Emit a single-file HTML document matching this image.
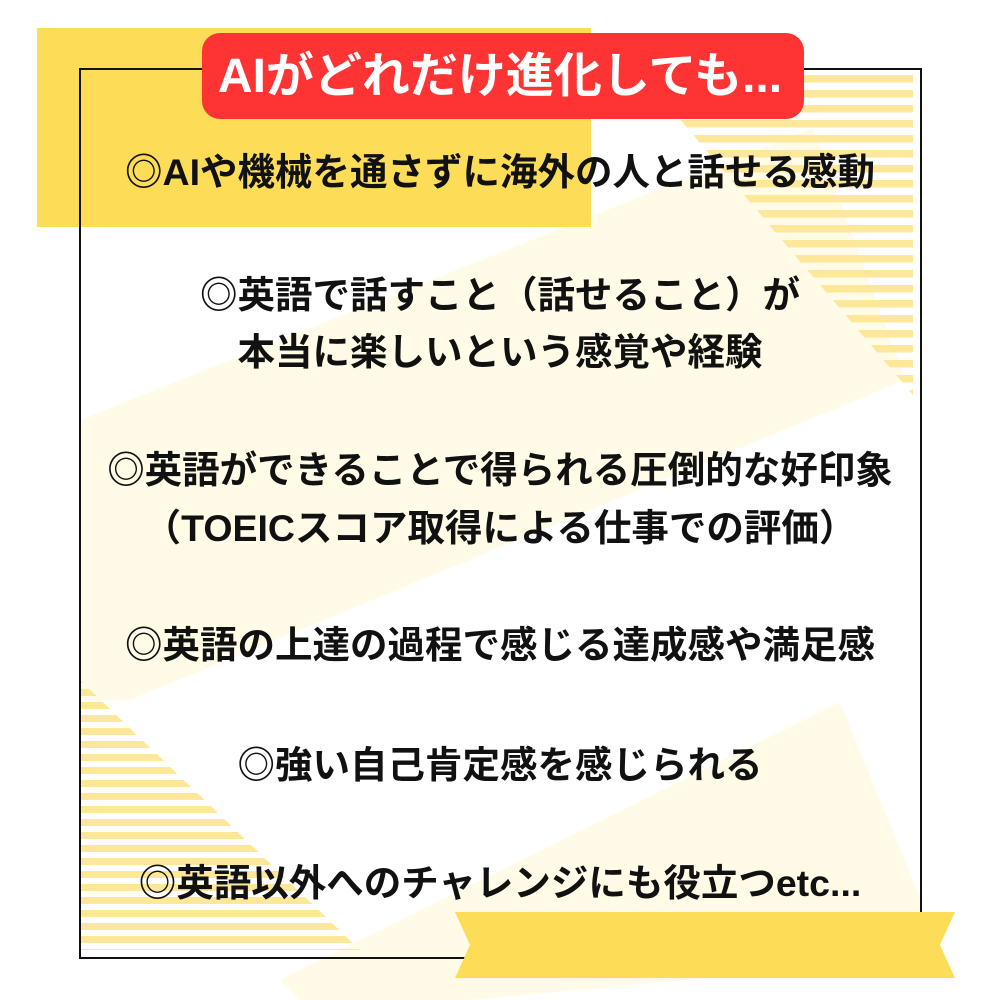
<!DOCTYPE html>
<html><head><meta charset="utf-8"><style>
html,body{margin:0;padding:0;width:1000px;height:1000px;background:#fff;overflow:hidden}
.t{position:absolute;left:0;width:1000px;text-align:center;font-family:"Liberation Sans","Noto Sans CJK JP",sans-serif;font-weight:bold;font-size:37.5px;color:#111;line-height:40px;white-space:nowrap}
</style></head><body>
<svg width="1000" height="1000" style="position:absolute;left:0;top:0">
<defs>
<pattern id="st" width="20" height="15" patternUnits="userSpaceOnUse"><rect y="0" width="20" height="7.5" fill="#fde89a"/></pattern>
<pattern id="st2" width="20" height="13" patternUnits="userSpaceOnUse"><rect y="0" width="20" height="7" fill="#fde89a"/></pattern>
</defs>
<polygon points="80,420 813,128 905,380 130,700 80,700" fill="#fffbe6"/>
<polygon points="840,702 921,900 921,958 470,1000 300,1000 280,980" fill="#fffbe6"/>
<polygon points="80,600 160,600 80,640" fill="#fffbe6"/>
<rect x="37" y="28" width="554" height="199" fill="#fddc58"/>
<polygon points="640,72 913,72 913,395" fill="url(#st)"/>
<polygon points="80,680 360,950 80,950" fill="url(#st2)"/>
<rect x="80" y="69" width="841" height="889" fill="none" stroke="#111" stroke-width="2"/>
<polygon points="455,912 955,912 940,945 955,978 455,978 470,945" fill="#fddc58"/>
<rect x="202" y="33" width="602" height="86" rx="18" fill="#fe3333"/>
</svg>
<div class="t" style="top:50px;color:#fff;font-size:48px;line-height:54px">AIがどれだけ進化しても...</div>
<div class="t" style="top:152px">◎AIや機械を通さずに海外の人と話せる感動</div>
<div class="t" style="top:275px">◎英語で話すこと（話せること）が</div>
<div class="t" style="top:332px">本当に楽しいという感覚や経験</div>
<div class="t" style="top:450px">◎英語ができることで得られる圧倒的な好印象</div>
<div class="t" style="top:508px">（TOEICスコア取得による仕事での評価）</div>
<div class="t" style="top:625px">◎英語の上達の過程で感じる達成感や満足感</div>
<div class="t" style="top:745px">◎強い自己肯定感を感じられる</div>
<div class="t" style="top:863px">◎英語以外へのチャレンジにも役立つetc...</div>
</body></html>
